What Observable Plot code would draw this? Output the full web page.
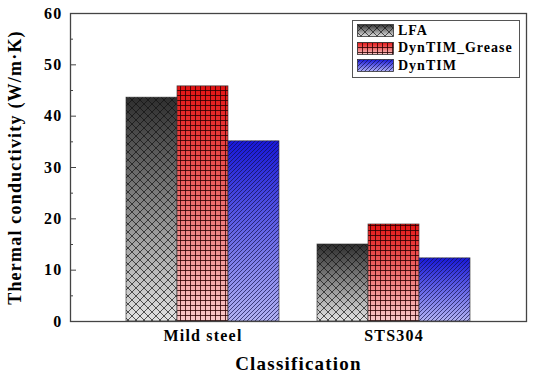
<!DOCTYPE html>
<html>
<head>
<meta charset="utf-8">
<script src="https://cdn.jsdelivr.net/npm/d3@7"></script>
<script src="https://cdn.jsdelivr.net/npm/@observablehq/plot@0.6"></script>
<style>
  html, body { margin: 0; padding: 0; background: #fff; }
  #wrap { position: relative; width: 537px; height: 377px; font-family: "Liberation Serif", "Times New Roman", serif; }
  #legend { position: absolute; left: 352px; top: 20px; width: 168px; height: 58px; border: 1px solid #555; background: #fff; box-sizing: border-box; padding-top: 1px; }
  .row { display: flex; align-items: center; height: 17.5px; }
  .row svg { margin-left: 4px; margin-right: 4px; }
  .row span { font-weight: bold; font-size: 14px; letter-spacing: 1px; color: #000; }
</style>
</head>
<body>
<svg width="0" height="0" style="position:absolute">
  <defs>
    <linearGradient id="gLFA" x1="0" y1="0" x2="0" y2="1">
      <stop offset="0" stop-color="#2e2e2e"/>
      <stop offset="1" stop-color="#e2e2e2"/>
    </linearGradient>
    <linearGradient id="gGrease" x1="0" y1="0" x2="0" y2="1">
      <stop offset="0" stop-color="#e41414"/>
      <stop offset="1" stop-color="#f8c8c8"/>
    </linearGradient>
    <linearGradient id="gDyn" x1="0" y1="0" x2="0" y2="1">
      <stop offset="0" stop-color="#1717d9"/>
      <stop offset="1" stop-color="#b2b2f2"/>
    </linearGradient>
    <pattern id="pLFA" patternUnits="userSpaceOnUse" width="8" height="8">
      <path d="M0,0 L8,8 M8,0 L0,8" stroke="#111" stroke-width="0.7" fill="none"/>
    </pattern>
    <pattern id="pGrease" patternUnits="userSpaceOnUse" width="5" height="5">
      <path d="M0,0.5 H5 M0.5,0 V5" stroke="#2a0000" stroke-width="0.8" fill="none"/>
    </pattern>
    <pattern id="pDyn" patternUnits="userSpaceOnUse" width="4" height="4">
      <path d="M-1,1 L1,-1 M0,4 L4,0 M3,5 L5,3" stroke="#10104a" stroke-width="0.7" fill="none"/>
    </pattern>
  </defs>
</svg>
<div id="wrap">
  <div id="legend"></div>
</div>
<script>
const categories = ["Mild steel", "STS304"];
const series = ["LFA", "DynTIM_Grease", "DynTIM"];
const lfaValues = [43.6, 15.0];
const greaseValues = [45.8, 18.9];
const dyntimValues = [35.1, 12.3];
const yTicks = [0, 10, 20, 30, 40, 50, 60];
const yMinorTicks = [5, 15, 25, 35, 45, 55];
const yLabel = "Thermal conductivity (W/m·K)";
const xLabel = "Classification";

const valuesBySeries = {LFA: lfaValues, DynTIM_Grease: greaseValues, DynTIM: dyntimValues};
const styleBySeries = {
  LFA: {grad: "url(#gLFA)", pat: "url(#pLFA)"},
  DynTIM_Grease: {grad: "url(#gGrease)", pat: "url(#pGrease)"},
  DynTIM: {grad: "url(#gDyn)", pat: "url(#pDyn)"}
};

const data = categories.flatMap((c, i) => series.map(s => ({category: c, series: s, value: valuesBySeries[s][i]})));

// layout
const W = 537, H = 377, mL = 70, mR = 11, mT = 13, mB = 56;
const padIn = 0.199, padOut = 0.293;
const step = (W - mL - mR) / (categories.length - padIn + 2 * padOut);
const bandwidth = step * (1 - padIn);
const part = bandwidth / series.length;

const barMarks = series.flatMap((s, k) => {
  const rows = data.filter(d => d.series === s);
  const insets = {insetLeft: k * part, insetRight: (series.length - 1 - k) * part};
  return [
    Plot.barY(rows, {x: "category", y: "value", fill: styleBySeries[s].grad, ...insets}),
    Plot.barY(rows, {x: "category", y: "value", fill: styleBySeries[s].pat, stroke: "#333", strokeWidth: 0.8, strokeOpacity: 0.8, ...insets})
  ];
});

const chart = Plot.plot({
  width: W,
  height: H,
  marginLeft: mL,
  marginRight: mR,
  marginTop: mT,
  marginBottom: mB,
  style: {fontFamily: "'Liberation Serif', 'Times New Roman', serif", fontWeight: "bold", color: "#000", background: "transparent", letterSpacing: "1.2px", overflow: "visible"},
  x: {domain: categories, paddingInner: padIn, paddingOuter: padOut},
  y: {domain: [0, 60]},
  marks: [
    ...barMarks,
    Plot.axisY({ticks: yTicks, tickSize: -6, tickPadding: 14, fontSize: 16, stroke: "#444", label: null}),
    Plot.axisY({ticks: yMinorTicks, tickSize: -3, tickFormat: () => "", label: null, stroke: "#444"}),
    Plot.axisX({anchor: "bottom", tickSize: 0, tickPadding: 8, fontSize: 16, label: null}),
    Plot.text([yLabel], {frameAnchor: "left", textAnchor: "middle", lineAnchor: "middle", rotate: -90, dx: -55, fontSize: 18, fill: "#000"}),
    Plot.text([xLabel], {frameAnchor: "bottom", textAnchor: "middle", lineAnchor: "middle", dy: 42, fontSize: 19, fill: "#000"}),
    Plot.frame({stroke: "#444", strokeWidth: 1.3})
  ]
});

document.getElementById("wrap").insertBefore(chart, document.getElementById("legend"));

const legend = d3.select("#legend");
series.forEach(s => {
  const row = legend.append("div").attr("class", "row");
  const sw = row.append("svg").attr("width", 37).attr("height", 13);
  sw.append("rect").attr("x", 0.5).attr("y", 0.5).attr("width", 36).attr("height", 12).attr("fill", styleBySeries[s].grad);
  sw.append("rect").attr("x", 0.5).attr("y", 0.5).attr("width", 36).attr("height", 12).attr("fill", styleBySeries[s].pat).attr("stroke", "#333").attr("stroke-width", 0.8);
  row.append("span").text(s);
});
</script>
</body>
</html>
